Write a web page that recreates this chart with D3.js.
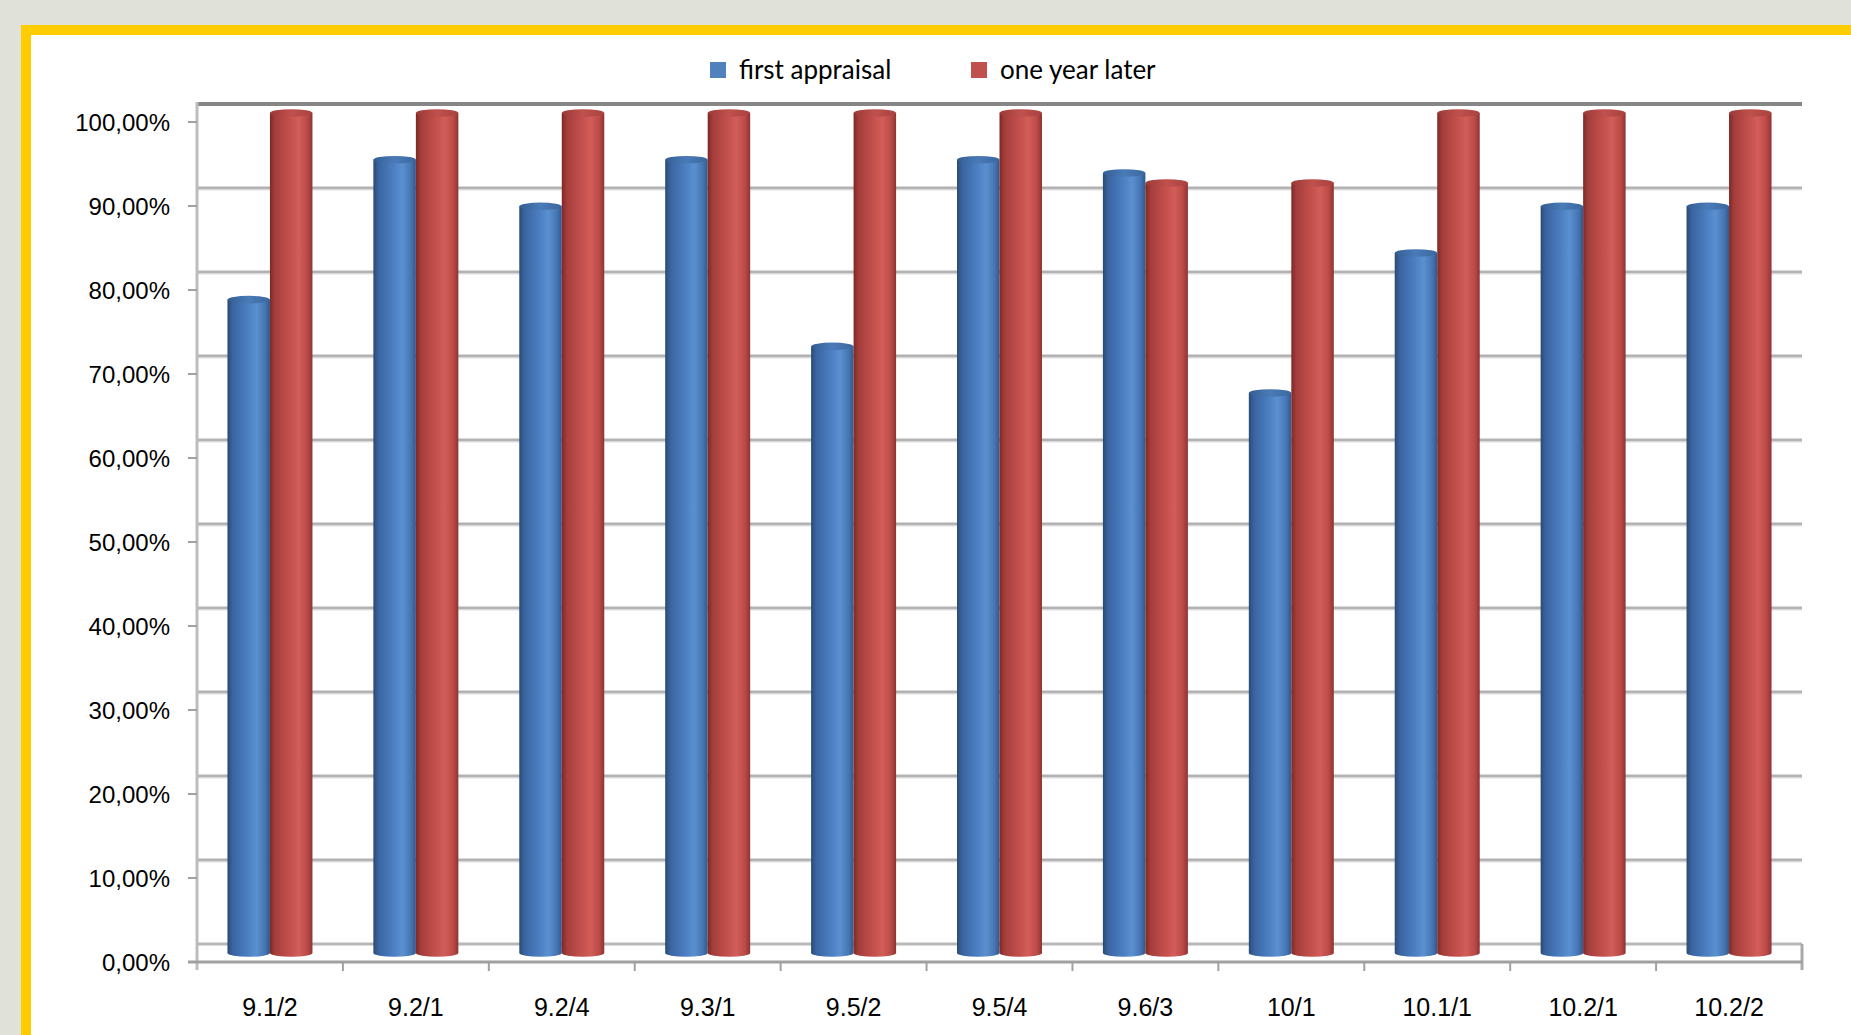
<!DOCTYPE html>
<html><head><meta charset="utf-8">
<script src="https://cdn.jsdelivr.net/npm/d3@7"></script>
<style>
html,body{margin:0;padding:0;background:#e0e1d9;overflow:hidden;}
svg{display:block;}
</style></head>
<body>
<script>
const categories = ["9.1/2","9.2/1","9.2/4","9.3/1","9.5/2","9.5/4","9.6/3","10/1","10.1/1","10.2/1","10.2/2"];
const seriesNames = ["first appraisal","one year later"];
const firstAppraisal = [0.7778,0.9444,0.8889,0.9444,0.7222,0.9444,0.9286,0.6667,0.8333,0.8889,0.8889];
const oneYearLater = [1.0,1.0,1.0,1.0,1.0,1.0,0.9167,0.9167,1.0,1.0,1.0];
const yTicks = [0,0.1,0.2,0.3,0.4,0.5,0.6,0.7,0.8,0.9,1.0];
const yTickLabels = ["0,00%","10,00%","20,00%","30,00%","40,00%","50,00%","60,00%","70,00%","80,00%","90,00%","100,00%"];

const W = 1851, H = 1035;
const svg = d3.select("body").append("svg").attr("width", W).attr("height", H);

// frame
svg.append("rect").attr("x",0).attr("y",0).attr("width",W).attr("height",H).attr("fill","#e0e1d9");
svg.append("rect").attr("x",26).attr("y",30).attr("width",W+40).attr("height",H+40)
  .attr("fill","#ffffff").attr("stroke","#ffcc00").attr("stroke-width",10);

const defs = svg.append("defs");
function hGrad(id, stops){
  const g = defs.append("linearGradient").attr("id",id).attr("x1","0").attr("x2","1").attr("y1","0").attr("y2","0");
  stops.forEach(s=>g.append("stop").attr("offset",s[0]).attr("stop-color",s[1]));
}
hGrad("blueBody",[["0%","#2b4a72"],["12%","#3a64a0"],["45%","#4a7dc0"],["68%","#5b90d0"],["88%","#4676b4"],["100%","#30598c"]]);
hGrad("redBody",[["0%","#7e2826"],["12%","#a43e3b"],["45%","#c24f4c"],["68%","#d25d59"],["88%","#bb4a47"],["100%","#8e3432"]]);
hGrad("blueTop",[["0%","#345d92"],["50%","#4a7bb8"],["100%","#3a679f"]]);
hGrad("redTop",[["0%","#9a3a37"],["50%","#c0504d"],["100%","#a8423f"]]);

// scales
const plotL = 197, plotR = 1802;
const x0 = d3.scaleBand().domain(categories).range([plotL, plotR]).padding(0);
const groupW = 85;
const x1 = d3.scaleBand().domain(seriesNames)
  .range([x0.bandwidth()/2 - groupW/2, x0.bandwidth()/2 + groupW/2]).padding(0);
const yFront = d3.scaleLinear().domain([0,1]).range([962,122]);
const yBack  = d3.scaleLinear().domain([0,1]).range([944,104]);
const yBar   = d3.scaleLinear().domain([0,1]).range([953,113]);

// back wall gridlines
const grid = svg.append("g");
yTicks.forEach((v,i)=>{
  if (v===0) return;
  const top = v===1;
  grid.append("line").attr("x1",plotL).attr("x2",plotR)
    .attr("y1",yBack(v)).attr("y2",yBack(v))
    .attr("stroke", top ? "#868686" : "#b2b2b2").attr("stroke-width", top?4:3);
  if(!top){
    grid.append("line").attr("x1",plotL).attr("x2",plotR)
      .attr("y1",yBack(v)+2).attr("y2",yBack(v)+2)
      .attr("stroke","#dcdcdc").attr("stroke-width",1);
  }
});
// left wall edge
grid.append("line").attr("x1",plotL).attr("x2",plotL).attr("y1",yBack(1)-2).attr("y2",yFront(0)+8)
  .attr("stroke","#bdbdbd").attr("stroke-width",3);
// floor
grid.append("line").attr("x1",plotL).attr("x2",plotR).attr("y1",yBack(0)).attr("y2",yBack(0))
  .attr("stroke","#b8b8b8").attr("stroke-width",3);
grid.append("line").attr("x1",plotR).attr("x2",plotR).attr("y1",yBack(0)).attr("y2",yFront(0)+8)
  .attr("stroke","#a8a8a8").attr("stroke-width",3);

// bars (cylinders)
const data = categories.map((c,i)=>({cat:c, vals:[firstAppraisal[i], oneYearLater[i]]}));
const bars = svg.append("g");
data.forEach(d=>{
  d.vals.forEach((v,si)=>{
    const s = seriesNames[si];
    const x = x0(d.cat) + x1(s);
    const w = x1.bandwidth();
    const t = yBar(v), b = yBar(0);
    const ry = 3.8, rx = w/2;
    const bodyFill = si===0 ? "url(#blueBody)" : "url(#redBody)";
    const topFill = si===0 ? "url(#blueTop)" : "url(#redTop)";
    bars.append("path")
      .attr("d", `M${x},${t} L${x},${b} A${rx},${ry} 0 0 0 ${x+w},${b} L${x+w},${t} Z`)
      .attr("fill", bodyFill);
    bars.append("ellipse").attr("cx",x+rx).attr("cy",t).attr("rx",rx).attr("ry",ry)
      .attr("fill", topFill);
  });
});

// front axis line and ticks
const ax = svg.append("g");
ax.append("line").attr("x1",plotL-9).attr("x2",plotR).attr("y1",yFront(0)).attr("y2",yFront(0))
  .attr("stroke","#a0a0a0").attr("stroke-width",3);
yTicks.forEach(v=>{
  ax.append("line").attr("x1",plotL-9).attr("x2",plotL).attr("y1",yFront(v)).attr("y2",yFront(v))
    .attr("stroke","#a0a0a0").attr("stroke-width",2);
});
categories.forEach((c,i)=>{
  if(i===0) return;
  ax.append("line").attr("x1",x0(c)).attr("x2",x0(c)).attr("y1",yFront(0)).attr("y2",yFront(0)+9)
    .attr("stroke","#a0a0a0").attr("stroke-width",2);
});

// labels
const lab = svg.append("g").attr("font-family","'Liberation Sans', Arial, sans-serif").attr("fill","#000");
yTicks.forEach((v,i)=>{
  lab.append("text").attr("x",170).attr("y",yFront(v)).attr("dy","0.36em")
    .attr("text-anchor","end").attr("font-size",24).text(yTickLabels[i]);
});
categories.forEach(c=>{
  lab.append("text").attr("x",x0(c)+x0.bandwidth()/2).attr("y",1007).attr("dy","0.36em")
    .attr("text-anchor","middle").attr("font-size",25).text(c);
});

// legend
const leg = svg.append("g").attr("font-family","Lato, 'Open Sans', sans-serif").attr("font-size",26);
const legX = [710, 971];
const legCol = ["#4f81bd","#c0504d"];
seriesNames.forEach((s,i)=>{
  leg.append("rect").attr("x",legX[i]).attr("y",62).attr("width",16).attr("height",16).attr("fill",legCol[i]);
  leg.append("text").attr("x",legX[i]+29).attr("y",79).attr("fill","#000").text(s);
});
</script>
</body></html>
